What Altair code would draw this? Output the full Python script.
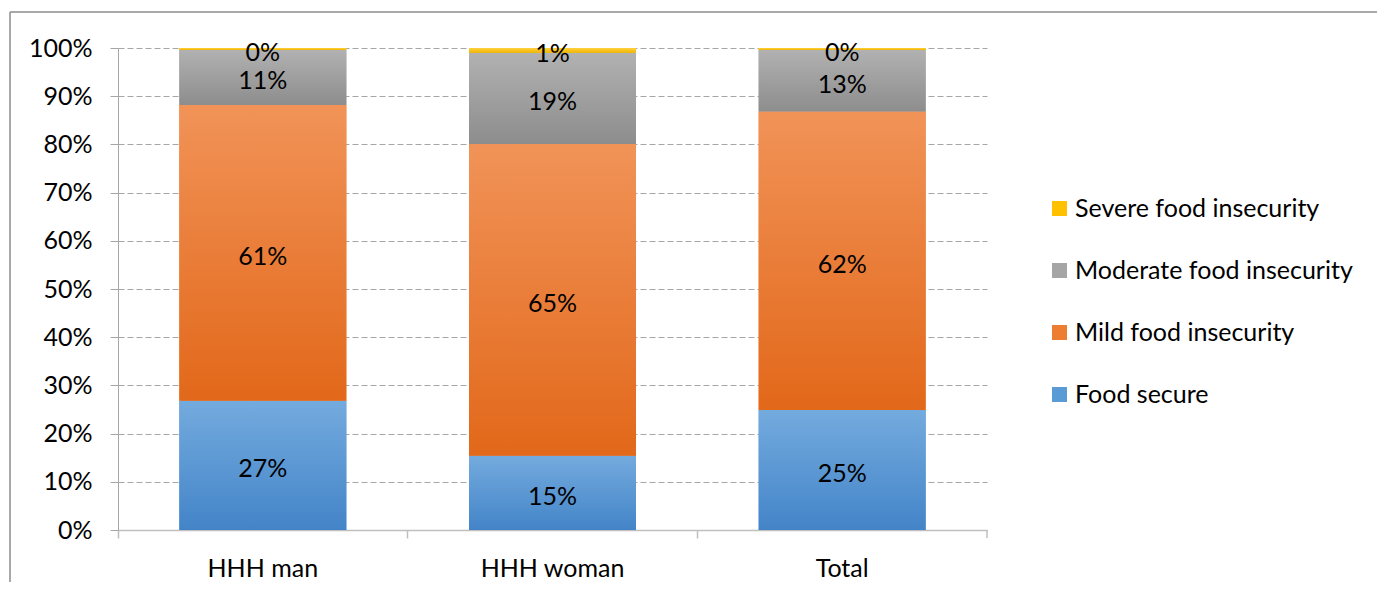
import altair as alt
import pandas as pd

categories = ["HHH man", "HHH woman", "Total"]
series = ["Food secure", "Mild food insecurity", "Moderate food insecurity", "Severe food insecurity"]
food_secure = [26.8, 15.4, 24.9]
mild = [61.4, 64.7, 61.9]
moderate = [11.4, 18.9, 12.8]
severe = [0.4, 1.0, 0.4]
y_ticks = [0, 10, 20, 30, 40, 50, 60, 70, 80, 90, 100]

legend_colors = ["#5B9BD5", "#ED7D31", "#A5A5A5", "#FFC000"]
grad_top = ["#74ABDE", "#F19358", "#B1B1B1", "#FFD23F"]
grad_bot = ["#4384C8", "#E2681A", "#8D8D8D", "#F0B400"]

rows = []
for i, c in enumerate(categories):
    for j, vals in enumerate([food_secure, mild, moderate, severe]):
        rows.append({"cat": c, "series": series[j], "order": j, "value": vals[i]})
df = pd.DataFrame(rows)

FONT = "Lato"
FS = 25

base = alt.Chart(df).transform_stack(
    stack="value", groupby=["cat"], as_=["y0", "y1"],
    sort=[alt.SortField("order", order="ascending")]
).transform_calculate(
    mid="(datum.y0 + datum.y1) / 2",
    label="format(datum.value, '.0f') + '%'"
)

x_enc = alt.X("cat:N", sort=categories,
              scale=alt.Scale(paddingInner=0, paddingOuter=0),
              axis=alt.Axis(title=None, labelAngle=0, bandPosition=0, tickSize=8,
                            tickColor="#bfbfbf", domainColor="#bfbfbf", domainWidth=1.5,
                            tickWidth=1.5, labelFont=FONT, labelFontSize=FS,
                            labelColor="#000000", labelPadding=18, grid=False))
y_enc = alt.Y("y0:Q", scale=alt.Scale(domain=[0, 100], nice=False),
              axis=alt.Axis(title=None, values=y_ticks, labelExpr="datum.value + '%'",
                            grid=True, gridDash=[6, 3], gridColor="#a6a6a6", gridWidth=1,
                            tickSize=8, tickColor="#a6a6a6", domainColor="#a6a6a6",
                            labelFont=FONT, labelFontSize=FS, labelColor="#000000",
                            labelPadding=18))

legend_layer = base.mark_bar(size=167).encode(
    x=x_enc, y=y_enc, y2="y1:Q",
    color=alt.Color("series:N",
                    scale=alt.Scale(domain=series, range=legend_colors),
                    legend=alt.Legend(title=None, orient="none", legendX=929, legendY=148,
                                      values=list(reversed(series)),
                                      symbolType="square", symbolSize=225,
                                      symbolStrokeWidth=0, labelFont=FONT,
                                      labelFontSize=FS, labelColor="#000000",
                                      labelLimit=0, labelOffset=3, rowPadding=36,
                                      labelExpr="indexof(datum.label, 'Moderate') == 0 ? '\u2004' + datum.label : datum.label"))
)

grad_layers = []
for j, s in enumerate(series):
    g = alt.LinearGradient(gradient="linear",
                           stops=[alt.GradientStop(offset=0, color=grad_top[j]),
                                  alt.GradientStop(offset=1, color=grad_bot[j])],
                           x1=0, x2=0, y1=0, y2=1)
    grad_layers.append(
        base.transform_filter(alt.datum.series == s).mark_bar(size=167, fill=g).encode(
            x=x_enc, y=y_enc, y2="y1:Q")
    )

text_layer = base.mark_text(font=FONT, fontSize=FS, color="#000000", baseline="middle", dy=4).encode(
    x=alt.X("cat:N", sort=categories), y=alt.Y("mid:Q"), text="label:N")

frame_df = pd.DataFrame({"k": [0]})
frame_top = alt.Chart(frame_df).mark_rule(color="#8c8c8c", strokeWidth=1.5).encode(
    x=alt.value(-108), x2=alt.value(1300), y=alt.value(-36))
frame_left = alt.Chart(frame_df).mark_rule(color="#8c8c8c", strokeWidth=1.5).encode(
    x=alt.value(-108), y=alt.value(-36), y2=alt.value(600))
end_tick = alt.Chart(frame_df).mark_rule(color="#bfbfbf", strokeWidth=1.5).encode(
    x=alt.value(869), y=alt.value(482), y2=alt.value(490))

chart = alt.layer(legend_layer, *grad_layers, text_layer, frame_top, frame_left, end_tick).properties(
    width=869, height=482,
    padding={"left": 110, "top": 40, "right": 390, "bottom": 52},
    autosize=alt.AutoSizeParams(type="none")
).configure_view(stroke=None)

chart.save("out.html", embed_options={"renderer": "svg", "actions": False})
